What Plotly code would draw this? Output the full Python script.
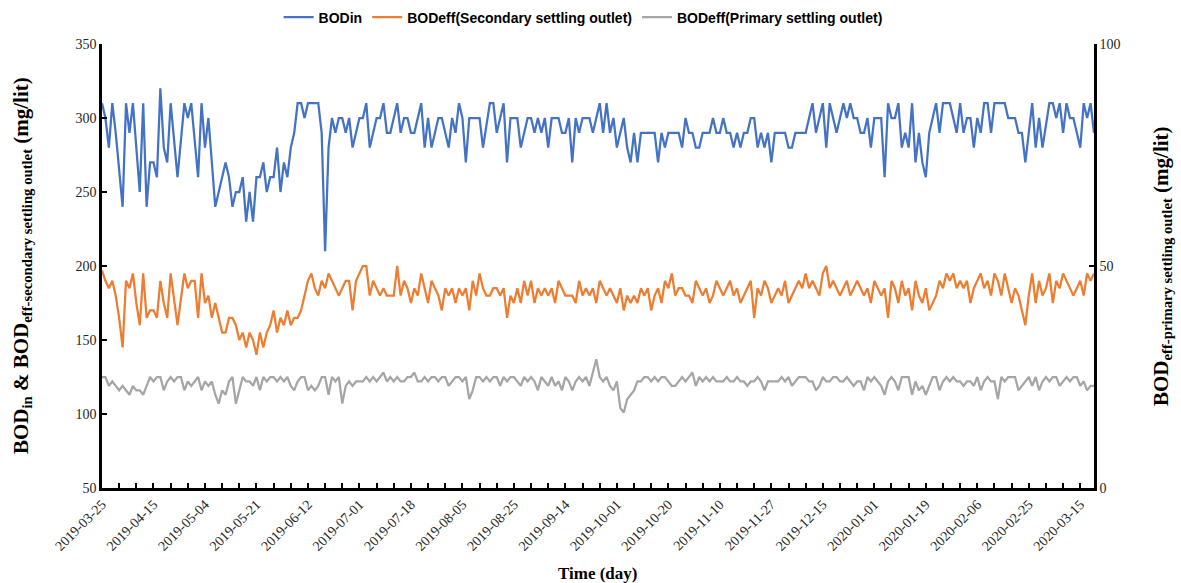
import plotly.graph_objects as go

DATE_LABELS = ["2019-03-25", "2019-04-15", "2019-05-04", "2019-05-21", "2019-06-12",
               "2019-07-01", "2019-07-18", "2019-08-05", "2019-08-25", "2019-09-14",
               "2019-10-01", "2019-10-20", "2019-11-10", "2019-11-27", "2019-12-15",
               "2020-01-01", "2020-01-19", "2020-02-06", "2020-02-25", "2020-03-15"]

BOD_IN = [
    310, 300, 280, 310, 290, 265, 240, 310, 290, 310,
    280, 250, 310, 240, 270, 270, 260, 320, 280, 270,
    310, 285, 260, 285, 310, 300, 310, 285, 260, 310,
    280, 300, 270, 240, 250, 260, 270, 260, 240, 250,
    250, 260, 230, 250, 230, 260, 260, 270, 250, 260,
    260, 280, 250, 270, 260, 280, 290, 310, 310, 300,
    310, 310, 310, 310, 290, 210, 280, 300, 290, 300,
    300, 290, 300, 280, 290, 300, 300, 310, 280, 290,
    300, 300, 310, 290, 290, 300, 310, 290, 300, 300,
    290, 290, 300, 310, 280, 300, 280, 290, 300, 300,
    290, 280, 300, 290, 310, 300, 270, 300, 300, 300,
    300, 280, 295, 310, 310, 290, 300, 310, 270, 300,
    300, 300, 280, 290, 300, 300, 290, 300, 290, 300,
    280, 300, 300, 300, 290, 290, 300, 270, 300, 290,
    300, 300, 300, 290, 300, 310, 290, 310, 290, 300,
    280, 290, 300, 280, 270, 290, 270, 290, 290, 290,
    290, 290, 270, 290, 280, 290, 290, 290, 290, 280,
    300, 290, 290, 280, 280, 290, 290, 290, 300, 290,
    290, 300, 290, 290, 280, 290, 280, 290, 290, 300,
    300, 280, 290, 280, 290, 270, 290, 290, 290, 290,
    280, 280, 290, 290, 290, 290, 300, 310, 290, 300,
    310, 280, 310, 300, 290, 300, 310, 300, 310, 300,
    300, 290, 290, 300, 280, 300, 300, 300, 260, 310,
    300, 300, 310, 280, 290, 280, 310, 270, 290, 270,
    260, 290, 300, 310, 290, 310, 310, 310, 300, 290,
    310, 290, 300, 300, 280, 300, 290, 310, 310, 290,
    310, 310, 310, 310, 300, 300, 300, 290, 290, 270,
    290, 310, 280, 300, 280, 295, 310, 310, 300, 310,
    290, 310, 300, 300, 290, 280, 310, 300, 310, 290,
]

BOD_EFF_SECONDARY = [
    197, 190, 185, 190, 180, 165, 145, 190, 185, 195,
    175, 160, 195, 165, 170, 170, 165, 190, 175, 165,
    195, 178, 160, 178, 195, 185, 190, 190, 165, 195,
    175, 180, 165, 175, 165, 155, 155, 165, 165, 160,
    150, 155, 145, 155, 150, 140, 155, 145, 155, 160,
    170, 155, 165, 160, 170, 160, 165, 165, 170, 180,
    190, 195, 185, 180, 190, 185, 195, 190, 185, 180,
    185, 190, 190, 170, 190, 195, 200, 200, 180, 190,
    185, 180, 185, 180, 180, 180, 200, 180, 190, 185,
    175, 185, 180, 195, 185, 175, 190, 185, 180, 170,
    185, 180, 185, 175, 185, 180, 185, 170, 190, 180,
    195, 185, 180, 180, 185, 185, 180, 185, 165, 180,
    175, 185, 175, 190, 180, 190, 175, 185, 180, 185,
    180, 185, 175, 190, 185, 180, 180, 180, 175, 190,
    180, 185, 180, 185, 175, 190, 185, 180, 185, 180,
    175, 185, 170, 180, 175, 180, 175, 185, 180, 185,
    170, 180, 185, 175, 190, 185, 195, 180, 185, 185,
    180, 180, 175, 190, 185, 180, 185, 175, 180, 190,
    185, 180, 185, 190, 180, 185, 175, 180, 185, 190,
    165, 185, 180, 190, 185, 175, 180, 185, 180, 190,
    175, 180, 185, 190, 185, 195, 185, 190, 185, 180,
    195, 200, 185, 190, 185, 180, 185, 190, 180, 185,
    190, 185, 180, 185, 175, 190, 185, 180, 185, 165,
    190, 185, 175, 190, 180, 185, 170, 190, 180, 175,
    185, 170, 175, 180, 190, 185, 195, 190, 195, 185,
    190, 185, 190, 175, 185, 190, 195, 185, 190, 180,
    195, 190, 180, 195, 185, 175, 185, 180, 170, 160,
    180, 195, 175, 190, 180, 185, 195, 175, 190, 185,
    195, 190, 185, 180, 185, 190, 180, 195, 190, 195,
]

BOD_EFF_PRIMARY = [
    25, 25, 23, 24, 23, 22, 23, 22, 21, 23,
    22, 22, 21, 23, 25, 24, 25, 25, 22, 24,
    25, 24, 25, 25, 22, 24, 23, 24, 25, 22,
    24, 23, 24, 21, 19, 22, 21, 24, 25, 19,
    22, 25, 24, 24, 23, 25, 22, 25, 24, 25,
    25, 24, 25, 24, 25, 23, 22, 24, 25, 25,
    22, 23, 22, 23, 25, 25, 21, 25, 24, 25,
    19, 23, 24, 23, 24, 24, 24, 25, 24, 25,
    24, 25, 26, 24, 25, 24, 25, 24, 24, 25,
    25, 26, 24, 24, 25, 24, 25, 25, 24, 25,
    25, 23, 24, 25, 25, 24, 25, 20, 22, 25,
    25, 24, 25, 24, 25, 25, 23, 25, 24, 25,
    25, 24, 23, 25, 24, 25, 24, 22, 25, 24,
    23, 25, 23, 24, 22, 25, 24, 22, 24, 25,
    24, 25, 23, 26, 29, 25, 24, 25, 23, 22,
    24, 18, 17, 20, 21, 22, 24, 24, 25, 25,
    24, 25, 24, 25, 25, 24, 23, 23, 24, 25,
    24, 25, 26, 23, 25, 24, 25, 24, 25, 24,
    24, 24, 25, 24, 24, 25, 24, 24, 23, 24,
    24, 25, 24, 22, 24, 24, 24, 24, 25, 24,
    25, 23, 24, 25, 25, 25, 24, 24, 22, 23,
    25, 24, 24, 25, 25, 24, 24, 25, 24, 23,
    24, 24, 22, 25, 24, 25, 24, 23, 21, 24,
    25, 24, 22, 25, 25, 25, 21, 24, 22, 23,
    21, 23, 25, 25, 22, 24, 25, 24, 25, 24,
    24, 23, 24, 24, 23, 25, 22, 24, 25, 24,
    24, 20, 25, 24, 25, 25, 25, 22, 23, 24,
    25, 23, 25, 22, 24, 25, 24, 25, 25, 23,
    24, 25, 24, 25, 25, 23, 24, 22, 23, 23,
]

SERIES_NAMES = ["BODin", "BODeff(Secondary settling outlet)", "BODeff(Primary settling outlet)"]
COLORS = ["#4472C4", "#ED7D31", "#A5A5A5"]

LABEL_STEP = 15
TICK_STEP = 5

n = len(BOD_IN)
x = list(range(n))

fig = go.Figure()
fig.add_trace(go.Scatter(x=x, y=BOD_IN, mode="lines", name=SERIES_NAMES[0],
                         line=dict(color=COLORS[0], width=2.25)))
fig.add_trace(go.Scatter(x=x, y=BOD_EFF_SECONDARY, mode="lines", name=SERIES_NAMES[1],
                         line=dict(color=COLORS[1], width=2.25)))
fig.add_trace(go.Scatter(x=x, y=BOD_EFF_PRIMARY, mode="lines", name=SERIES_NAMES[2],
                         line=dict(color=COLORS[2], width=2.25), yaxis="y2"))

tickvals = list(range(0, n, TICK_STEP))
ticktext = [DATE_LABELS[v // LABEL_STEP] if v % LABEL_STEP == 0 and v // LABEL_STEP < len(DATE_LABELS) else ""
            for v in tickvals]

serif = "Liberation Serif, Times New Roman, serif"
tick_font = dict(family=serif, size=14, color="#262626")

fig.update_layout(
    width=1181, height=583,
    paper_bgcolor="white", plot_bgcolor="white",
    margin=dict(l=102, r=87, t=44, b=95, autoexpand=False),
    showlegend=True,
    legend=dict(orientation="h", x=0.485, xanchor="center",
                yref="container", y=0.97, yanchor="middle",
                font=dict(family="Liberation Sans Narrow, Liberation Sans, Arial, sans-serif",
                          size=14, color="#000000", weight="bold"),
                itemwidth=30, traceorder="normal", bgcolor="rgba(0,0,0,0)"),
    xaxis=dict(range=[0, n - 1], tickmode="array", tickvals=tickvals, ticktext=ticktext,
               tickangle=-45, ticks="inside", ticklen=5, tickwidth=2, tickcolor="black",
               showline=True, linecolor="black", linewidth=2.5, showgrid=False, zeroline=False,
               tickfont=tick_font, automargin=False),
    yaxis=dict(range=[50, 350], dtick=50, ticks="inside", ticklen=5, tickwidth=2,
               tickcolor="black", showline=True, linecolor="black", linewidth=2.5,
               showgrid=False, zeroline=False, tickfont=tick_font, automargin=False),
    yaxis2=dict(range=[0, 100], dtick=50, overlaying="y", side="right", ticks="inside",
                ticklen=5, tickwidth=2, tickcolor="black", showline=True, linecolor="black",
                linewidth=2.5, showgrid=False, zeroline=False, tickfont=tick_font,
                automargin=False),
)

title_font = dict(family=serif, size=21, color="black")
fig.add_annotation(xref="paper", yref="paper", x=0, y=0.5, xshift=-80,
                   text="<b>BOD<sub>in</sub> &amp; BOD<sub>eff-secondary settling outlet</sub> (mg/lit)</b>",
                   textangle=-90, showarrow=False, font=title_font,
                   xanchor="center", yanchor="middle")
fig.add_annotation(xref="paper", yref="paper", x=1, y=0.5, xshift=68,
                   text="<b>BOD<sub>eff-primary settling outlet</sub> (mg/lit)</b>",
                   textangle=-90, showarrow=False, font=title_font,
                   xanchor="center", yanchor="middle")
fig.add_annotation(xref="paper", yref="paper", x=0.5, y=0, yshift=-85,
                   text="<b>Time (day)</b>", showarrow=False,
                   font=dict(family=serif, size=17, color="black"),
                   xanchor="center", yanchor="middle")

fig.write_html("out.html",
               config={"displayModeBar": False},
               post_script="document.body.style.margin='0';document.body.style.overflow='hidden';")
